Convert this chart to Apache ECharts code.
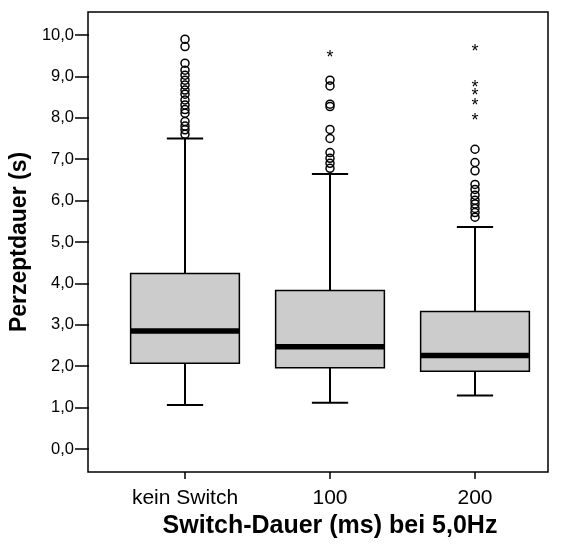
<!DOCTYPE html>
<html>
<head>
<meta charset="utf-8">
<script src="https://cdn.jsdelivr.net/npm/echarts@6/dist/echarts.min.js"></script>
<style>
  html, body { margin: 0; padding: 0; background: #fff; }
  #chart { width: 566px; height: 548px; }
</style>
</head>
<body>
<div id="chart"></div>
<script>
const categories = ["kein Switch", "100", "200"];

// per category: [lower whisker, Q1, median, Q3, upper whisker]
const boxStats = [
  [1.06, 2.07, 2.85, 4.24, 7.50],
  [1.12, 1.96, 2.47, 3.83, 6.64],
  [1.29, 1.88, 2.26, 3.32, 5.36],
];

// outliers (circles)
const outliersKein = [9.90, 9.72, 9.32, 9.15, 9.03, 8.91, 8.79, 8.67, 8.57, 8.43, 8.31, 8.20, 8.11, 7.91, 7.80, 7.71, 7.60];
const outliers100 = [8.91, 8.77, 8.33, 8.27, 7.72, 7.50, 7.16, 7.02, 6.90, 6.78];
const outliers200 = [7.24, 6.92, 6.72, 6.39, 6.27, 6.13, 6.01, 5.92, 5.81, 5.71, 5.60];

// extreme values (asterisks)
const extremesKein = [];
const extremes100 = [9.54];
const extremes200 = [9.68, 8.82, 8.63, 8.39, 8.03];

const yTickLabels = ["0,0", "1,0", "2,0", "3,0", "4,0", "5,0", "6,0", "7,0", "8,0", "9,0", "10,0"];

const FONT = "Liberation Sans, Arial, sans-serif";

// frame spans a bit more than 0..10 (23px above and below at ~41.4px/unit)
const FRAME_MIN = -0.5556;
const FRAME_MAX = 10.5556;

function toPoints(list, idx) {
  return list.map((v) => [idx, v]);
}

const circlePoints = [
  ...toPoints(outliersKein, 0),
  ...toPoints(outliers100, 1),
  ...toPoints(outliers200, 2),
];
const starPoints = [
  ...toPoints(extremesKein, 0),
  ...toPoints(extremes100, 1),
  ...toPoints(extremes200, 2),
];

function renderBox(params, api) {
  const i = api.value(0);
  const lo = api.coord([i, api.value(1)]);
  const q1 = api.coord([i, api.value(2)]);
  const med = api.coord([i, api.value(3)]);
  const q3 = api.coord([i, api.value(4)]);
  const hi = api.coord([i, api.value(5)]);
  const band = api.size([1, 0])[0];
  const w = band * 0.75;
  const cap = band * 0.25;
  const x = lo[0];
  const lineStyle = { stroke: "#000", lineWidth: 2 };
  return {
    type: "group",
    children: [
      { type: "line", shape: { x1: x, y1: hi[1], x2: x, y2: q3[1] }, style: lineStyle },
      { type: "line", shape: { x1: x, y1: q1[1], x2: x, y2: lo[1] }, style: lineStyle },
      { type: "line", shape: { x1: x - cap / 2, y1: hi[1], x2: x + cap / 2, y2: hi[1] }, style: lineStyle },
      { type: "line", shape: { x1: x - cap / 2, y1: lo[1], x2: x + cap / 2, y2: lo[1] }, style: lineStyle },
      {
        type: "rect",
        shape: { x: x - w / 2, y: q3[1], width: w, height: q1[1] - q3[1] },
        style: { fill: "#cccccc", stroke: "#000", lineWidth: 1.5 },
      },
      {
        type: "line",
        shape: { x1: x - w / 2, y1: med[1], x2: x + w / 2, y2: med[1] },
        style: { stroke: "#000", lineWidth: 5.5 },
      },
    ],
  };
}

function renderStar(params, api) {
  const p = api.coord([api.value(0), api.value(1)]);
  return {
    type: "text",
    style: {
      text: "*",
      x: p[0],
      y: p[1] + 4,
      align: "center",
      verticalAlign: "middle",
      font: "18px " + FONT,
      fill: "#000",
    },
  };
}

const chart = echarts.init(document.getElementById("chart"), null, { renderer: "canvas" });

chart.setOption({
  animation: false,
  backgroundColor: "#fff",
  grid: [
    // frame
    { left: 88, right: 18, top: 12, bottom: 76, show: true, borderColor: "#000", borderWidth: 1.5, backgroundColor: "transparent" },
    // data area (category bands)
    { left: 112.5, right: 18.5, top: 12, bottom: 76 },
    // y tick labels 0..10
    { left: 88, right: 18, top: 35, bottom: 99 },
  ],
  xAxis: [
    { gridIndex: 0, type: "value", show: false, min: 0, max: 1 },
    {
      gridIndex: 1,
      type: "category",
      data: categories,
      position: "bottom",
      axisLine: { show: false, onZero: false },
      axisTick: { show: true, alignWithLabel: true, length: 7, lineStyle: { color: "#000", width: 1.5 } },
      axisLabel: { color: "#000", fontFamily: FONT, fontSize: 21, margin: 16 },
      name: "Switch-Dauer (ms) bei 5,0Hz",
      nameLocation: "middle",
      nameGap: 40,
      nameTextStyle: { color: "#000", fontFamily: FONT, fontSize: 25, fontWeight: "bold", verticalAlign: "top" },
    },
    { gridIndex: 2, type: "value", show: false, min: 0, max: 1 },
  ],
  yAxis: [
    { gridIndex: 0, type: "value", show: false, min: 0, max: 1 },
    { gridIndex: 1, type: "value", show: false, min: FRAME_MIN, max: FRAME_MAX },
    {
      gridIndex: 2,
      type: "value",
      min: 0,
      max: 10,
      interval: 1,
      splitLine: { show: false },
      axisLine: { show: false },
      axisTick: { show: true, length: 14, lineStyle: { color: "#000", width: 1.5 } },
      axisLabel: {
        color: "#000",
        fontFamily: FONT,
        fontSize: 16.5,
        margin: 15,
        formatter: (v) => yTickLabels[Math.round(v)],
      },
      name: "Perzeptdauer (s)",
      nameLocation: "middle",
      nameRotate: 90,
      nameGap: 57,
      nameTextStyle: { color: "#000", fontFamily: FONT, fontSize: 23, fontWeight: "bold" },
    },
  ],
  series: [
    {
      type: "custom",
      xAxisIndex: 1,
      yAxisIndex: 1,
      renderItem: renderBox,
      encode: { x: 0, y: [1, 2, 3, 4, 5] },
      data: boxStats.map((s, i) => [i, ...s]),
      z: 2,
    },
    {
      type: "scatter",
      xAxisIndex: 1,
      yAxisIndex: 1,
      symbol: "circle",
      symbolSize: 8,
      itemStyle: { color: "rgba(255,255,255,0)", borderColor: "#000", borderWidth: 1.5, opacity: 1 },
      data: circlePoints,
      z: 3,
    },
    {
      type: "custom",
      xAxisIndex: 1,
      yAxisIndex: 1,
      renderItem: renderStar,
      encode: { x: 0, y: 1 },
      data: starPoints,
      z: 3,
    },
  ],
});
</script>
</body>
</html>
